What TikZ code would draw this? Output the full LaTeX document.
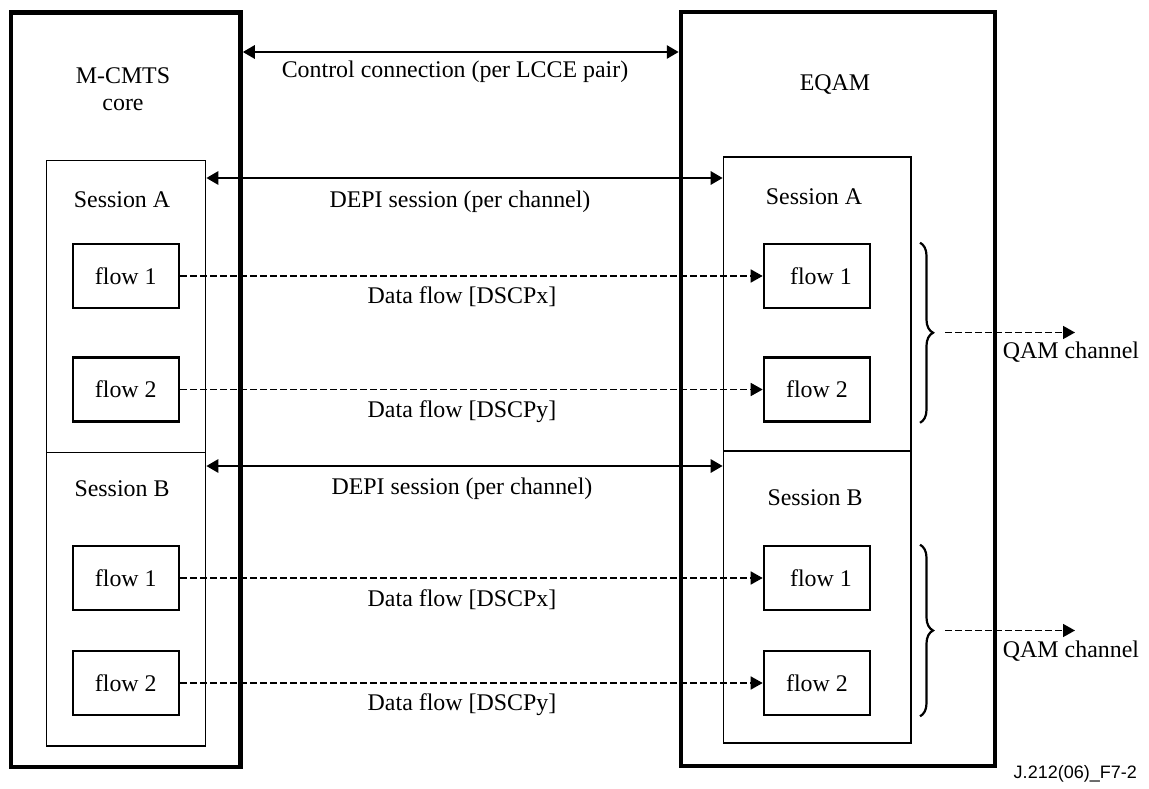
\documentclass[tikz,border=0pt]{standalone}
\usepackage{fontspec}
\setmainfont{Liberation Serif}
\setsansfont{Liberation Sans}
\usetikzlibrary{arrows.meta,decorations.pathreplacing}
\begin{document}
\begin{tikzpicture}[x=1pt,y=-1pt,
  every node/.style={font=\fontsize{23.9}{27}\selectfont, inner sep=0pt},
  unitbox/.style={draw, line width=4.5pt, outer sep=2.25pt},
  sessbox/.style={draw, line width=1.2pt, outer sep=0.6pt},
  flowbox/.style={draw, line width=2.6pt, outer sep=1.3pt, minimum width=106pt, minimum height=64pt},
  lbl/.style={align=center},
  ctrl/.style={line width=2.8pt, {Triangle[length=12pt,width=13pt]}-{Triangle[length=12pt,width=13pt]}},
  data/.style={line width=1.6pt, dash pattern=on 6.5pt off 3.5pt, -{Triangle[length=12pt,width=13pt]}},
  brc/.style={decorate, decoration={brace, amplitude=13pt}, line width=2.2pt}
]
\useasboundingbox (0,0) rectangle (1149,789);

% units
\node[unitbox, minimum width=229.5pt, minimum height=754.5pt] (lcore) at (125.75,389.75) {};
\node[unitbox, minimum width=314pt, minimum height=754pt] (eqam) at (838,389) {};
\node[lbl] (lcoret) at (123,89.5) {M-CMTS\\core};
\node[lbl] (eqamt) at (835,85) {EQAM};

% sessions
\node[sessbox, minimum width=159pt, minimum height=292pt] (lsa) at (126.2,306.7) {};
\node[sessbox, minimum width=159pt, minimum height=293.3pt] (lsb) at (126.2,599.35) {};
\node[sessbox, minimum width=187.7pt, minimum height=294pt] (rsa) at (817.15,304) {};
\node[sessbox, minimum width=187.7pt, minimum height=292pt] (rsb) at (817.15,597) {};
\node (lsat) at (122,200) {Session A};
\node (lsbt) at (122,489) {Session B};
\node (rsat) at (814,197) {Session A};
\node (rsbt) at (815,498) {Session B};

% flows
\node[flowbox] (lfa1) at (125.8,276) {flow 1};
\node[flowbox] (lfa2) at (125.8,389.5) {flow 2};
\node[flowbox] (lfb1) at (125.8,578) {flow 1};
\node[flowbox] (lfb2) at (125.8,683) {flow 2};
\node[flowbox] (rfa1) at (817,276) {\hspace{8pt}flow 1};
\node[flowbox] (rfa2) at (817,389.5) {flow 2};
\node[flowbox] (rfb1) at (817,578) {\hspace{8pt}flow 1};
\node[flowbox] (rfb2) at (817,683) {flow 2};

% control and session connections
\draw[ctrl] (lcore.east |- 0,52) -- (eqam.west |- 0,52);
\node (ctlt) at (455,72) {Control connection (per LCCE pair)};
\draw[ctrl] (lsa.east |- 0,178) -- (rsa.west |- 0,178);
\node (depia) at (460,202) {DEPI session (per channel)};
\draw[ctrl] (lsb.east |- 0,466) -- (rsb.west |- 0,466);
\node (depib) at (462,489) {DEPI session (per channel)};

% data flows
\draw[data] (lfa1.east) -- (rfa1.west);
\node (dfa1) at (462,297) {Data flow [DSCPx]};
\draw[data] (lfa2.east) -- (rfa2.west);
\node (dfa2) at (462,412) {Data flow [DSCPy]};
\draw[data] (lfb1.east) -- (rfb1.west);
\node (dfb1) at (462,600) {Data flow [DSCPx]};
\draw[data] (lfb2.east) -- (rfb2.west);
\node (dfb2) at (462,705) {Data flow [DSCPy]};

% channel grouping
\draw[brc] (rfa1.north -| 920,0) -- (rfa2.south -| 920,0);
\draw[brc] (rfb1.north -| 920,0) -- (rfb2.south -| 920,0);
\coordinate (qa) at (945,332.5);
\coordinate (qae) at (1075,332.5);
\coordinate (qb) at (945,630.5);
\coordinate (qbe) at (1075,630.5);
\draw[data] (qa) -- (qae);
\draw[data] (qb) -- (qbe);
\node (qat) at (1071,352) {QAM channel};
\node (qbt) at (1071,651) {QAM channel};

\node[font=\sffamily\fontsize{18}{20}\selectfont, anchor=east] (fig) at (1137,774) {J.212(06)\_F7-2};
\end{tikzpicture}
\end{document}
